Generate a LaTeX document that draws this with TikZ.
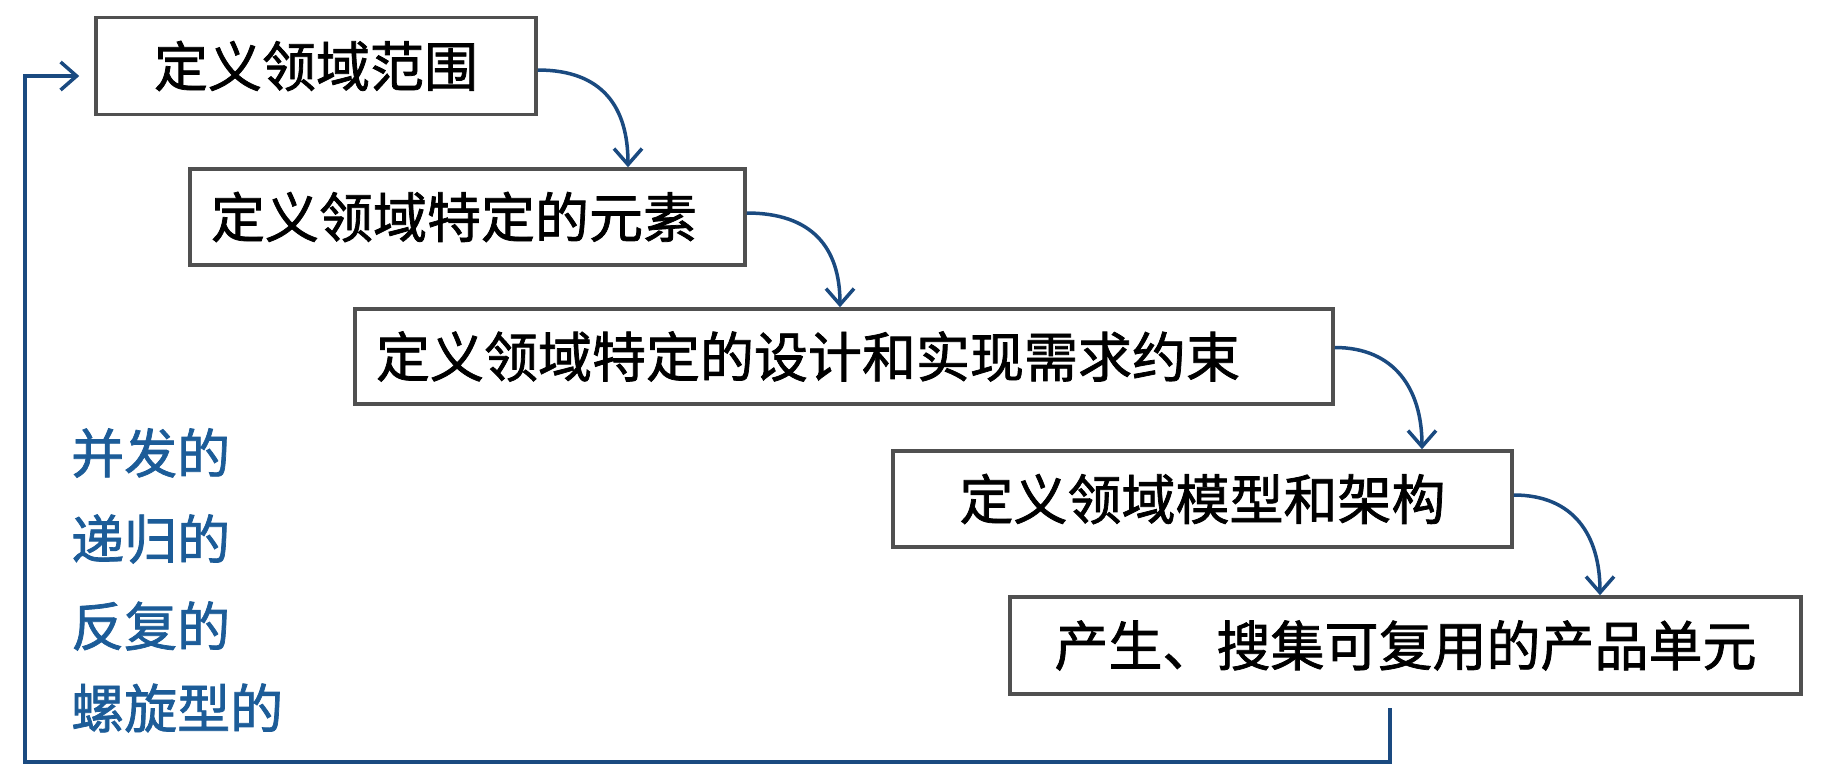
\documentclass[tikz,border=0pt]{standalone}
\usepackage{fontspec}
\setmainfont{Noto Sans CJK SC}[FakeBold=1.4]
\usetikzlibrary{arrows.meta}
\definecolor{boxline}{RGB}{80,80,80}
\definecolor{arrblue}{RGB}{26,74,128}
\definecolor{lblblue}{RGB}{28,92,152}
\tikzset{
  stepbox/.style={draw=boxline, line width=3.5pt, fill=white, inner sep=0pt,
    font=\fontsize{54}{62}\selectfont, text=black},
  flowarrow/.style={draw=arrblue, line width=3.5pt,
    -{Straight Barb[length=16pt,width=28pt,line width=3.5pt]}},
  sidelabel/.style={anchor=west, inner sep=0pt, text=lblblue,
    font=\fontsize{53}{60}\selectfont}
}
\begin{document}
\begin{tikzpicture}[x=1pt,y=-1pt]
\useasboundingbox (0,0) rectangle (1824,782);
% boxes
\node[stepbox, minimum width=440pt, minimum height=97pt] (b1) at (316,66) {\raisebox{3pt}{定义领域范围}};
\node[stepbox, minimum width=555pt, minimum height=96pt, text width=513pt, align=left, inner xsep=21pt] (b2) at (467.5,217) {\raisebox{3pt}{定义领域特定的元素}};
\node[stepbox, minimum width=978pt, minimum height=95pt, text width=936pt, align=left, inner xsep=21pt] (b3) at (844,356.5) {\raisebox{3pt}{定义领域特定的设计和实现需求约束}};
\node[stepbox, minimum width=619pt, minimum height=96pt] (b4) at (1202.5,499) {\raisebox{3pt}{定义领域模型和架构}};
\node[stepbox, minimum width=791pt, minimum height=97pt] (b5) at (1405.5,645.5) {\raisebox{3pt}{产生、搜集可复用的产品单元}};
% curved arrows
\draw[flowarrow] ([yshift=-4pt]b1.east) .. controls +(65,0) and +(0,-60) .. (628,0 |- b2.north);
\draw[flowarrow] ([yshift=4pt]b2.east) .. controls +(65,0) and +(0,-60) .. (840,0 |- b3.north);
\draw[flowarrow] ([yshift=9pt]b3.east) .. controls +(60,0) and +(0,-60) .. (1422,0 |- b4.north);
\draw[flowarrow] ([yshift=4pt]b4.east) .. controls +(60,0) and +(0,-60) .. (1600,0 |- b5.north);
% loop back
\coordinate (ls) at (1390,708);
\coordinate (lc) at (25,762);
\draw[flowarrow, line join=miter] (ls) |- (lc) |- ([xshift=-15pt,yshift=-10pt]b1.west);
% side labels
\node[sidelabel] (l1) at (71,453) {并发的};
\node[sidelabel] (l2) at (71,539) {递归的};
\node[sidelabel] (l3) at (71,626) {反复的};
\node[sidelabel] (l4) at (71,708) {螺旋型的};
\end{tikzpicture}
\end{document}
